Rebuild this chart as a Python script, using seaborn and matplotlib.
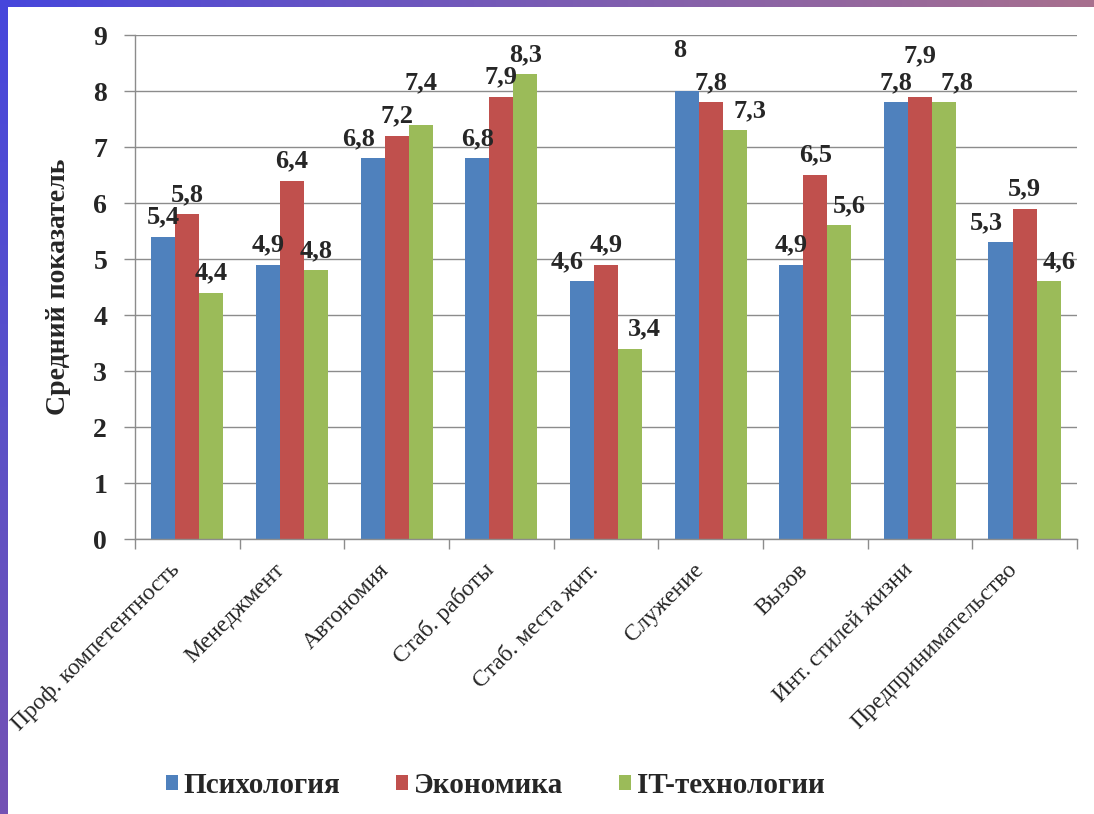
import numpy as np
import pandas as pd
import matplotlib
matplotlib.use("Agg")
import matplotlib.pyplot as plt
import seaborn as sns
from matplotlib.ticker import FixedLocator
from matplotlib.colors import LinearSegmentedColormap
from matplotlib.transforms import ScaledTranslation

sns.set_style("white")
plt.rcParams["font.family"] = ["Liberation Serif", "DejaVu Serif"]

# цвета (палитра Excel)
СИНИЙ = "#4F81BD"
КРАСНЫЙ = "#C0504D"
ЗЕЛЕНЫЙ = "#9BBB59"
СЕТКА = "#8C8C8C"

# данные
категории = [
    "Проф. компетентность",
    "Менеджмент",
    "Автономия",
    "Стаб. работы",
    "Стаб. места жит.",
    "Служение",
    "Вызов",
    "Инт. стилей жизни",
    "Предпринимательство",
]
группы = ["Психология", "Экономика", "IT-технологии"]
психология = [5.4, 4.9, 6.8, 6.8, 4.6, 8.0, 4.9, 7.8, 5.3]
экономика = [5.8, 6.4, 7.2, 7.9, 4.9, 7.8, 6.5, 7.9, 5.9]
it_технологии = [4.4, 4.8, 7.4, 8.3, 3.4, 7.3, 5.6, 7.8, 4.6]
деления_y = [0, 1, 2, 3, 4, 5, 6, 7, 8, 9]

df = pd.DataFrame({
    "Категория": категории * 3,
    "Группа": [группы[0]] * 9 + [группы[1]] * 9 + [группы[2]] * 9,
    "Значение": психология + экономика + it_технологии,
})

fig = plt.figure(figsize=(10.94, 8.14), dpi=100)
PX = 72 / fig.dpi  # пиксели -> пункты

# рамка-градиент (сверху и слева)
фон = fig.add_axes([0, 0, 1, 1], zorder=-10)
фон.set_axis_off()
фон.set_xlim(0, 1094)
фон.set_ylim(814, 0)
град_верх = LinearSegmentedColormap.from_list("v", ["#4646DC", "#7A5CB4", "#A8708E"])
град_лево = LinearSegmentedColormap.from_list("l", ["#4646DC", "#5A50C8", "#7452B4"])
фон.imshow(np.linspace(0, 1, 256)[None, :], extent=(0, 1094, 7, 0), cmap=град_верх, aspect="auto")
фон.imshow(np.linspace(0, 1, 256)[:, None], extent=(0, 8, 814, 0), cmap=град_лево, aspect="auto")

ax = fig.add_axes([0.1234, 0.3378, 0.861, 0.6192])

sns.barplot(
    data=df,
    x="Категория",
    y="Значение",
    hue="Группа",
    palette=[СИНИЙ, КРАСНЫЙ, ЗЕЛЕНЫЙ],
    width=0.69,
    saturation=1,
    linewidth=0,
    edgecolor="none",
    ax=ax,
    legend=True,
)

# подписи как в Excel: часть раздвинута, чтобы не налезали
сдвиги = {
    (0, 2): (-14, 0), (2, 2): (0, 22),
    (0, 4): (-15, 0), (2, 4): (14, 0),
    (0, 5): (-7, 21), (2, 5): (15, 0),
    (2, 6): (10, 0),
    (1, 7): (0, 21), (2, 7): (13, 0),
    (0, 8): (-14, 0), (2, 8): (10, 0),
}
ОТСТУП = 6
for g, cont in enumerate(ax.containers):
    подписи = [f"{v:g}".replace(".", ",") for v in cont.datavalues]
    тексты = ax.bar_label(cont, labels=подписи, padding=ОТСТУП, fontsize=19, fontweight="bold")
    for i, t in enumerate(тексты):
        dx, dy = сдвиги.get((g, i), (0, 0))
        t.xyann = (dx * PX, ОТСТУП + dy * PX)

ax.set_ylim(0, 9)
ax.set_xlim(-0.5, len(категории) - 0.5)
ax.set_yticks(деления_y)
ax.set_yticklabels([str(v) for v in деления_y], fontsize=20, fontweight="bold")
ax.yaxis.grid(True, color=СЕТКА, linewidth=1)
ax.set_axisbelow(True)
for s in ["top", "right"]:
    ax.spines[s].set_visible(False)
for s in ["left", "bottom"]:
    ax.spines[s].set_color(СЕТКА)
    ax.spines[s].set_linewidth(1)

ax.tick_params(axis="y", direction="out", length=8, width=1, color=СЕТКА, pad=12, left=True)
ax.set_xticks(range(len(категории)))
ax.set_xticklabels(категории, rotation=45, ha="right", rotation_mode="anchor", fontsize=17)
ax.tick_params(axis="x", which="major", length=0, pad=6)
ax.xaxis.set_minor_locator(FixedLocator(np.arange(-0.5, len(категории), 1.0)))
ax.tick_params(axis="x", which="minor", direction="out", length=7, width=1, color=СЕТКА, bottom=True)
for lbl in ax.get_xticklabels():
    lbl.set_transform(lbl.get_transform() + ScaledTranslation(-18 / fig.dpi, -12 / fig.dpi, fig.dpi_scale_trans))

ax.set_xlabel("")
ax.set_ylabel("Средний показатель", fontsize=20, fontweight="bold", labelpad=16)

handles, labels = ax.get_legend_handles_labels()
ax.get_legend().remove()
fig.legend(
    handles, labels,
    loc="center",
    bbox_to_anchor=(0.4525, 0.035),
    ncol=3,
    frameon=False,
    handlelength=0.42,
    handleheight=0.42,
    handletextpad=0.2,
    columnspacing=1.9,
    prop={"weight": "bold", "size": 21},
)

fig.savefig("out.png", dpi=100, facecolor="white")
